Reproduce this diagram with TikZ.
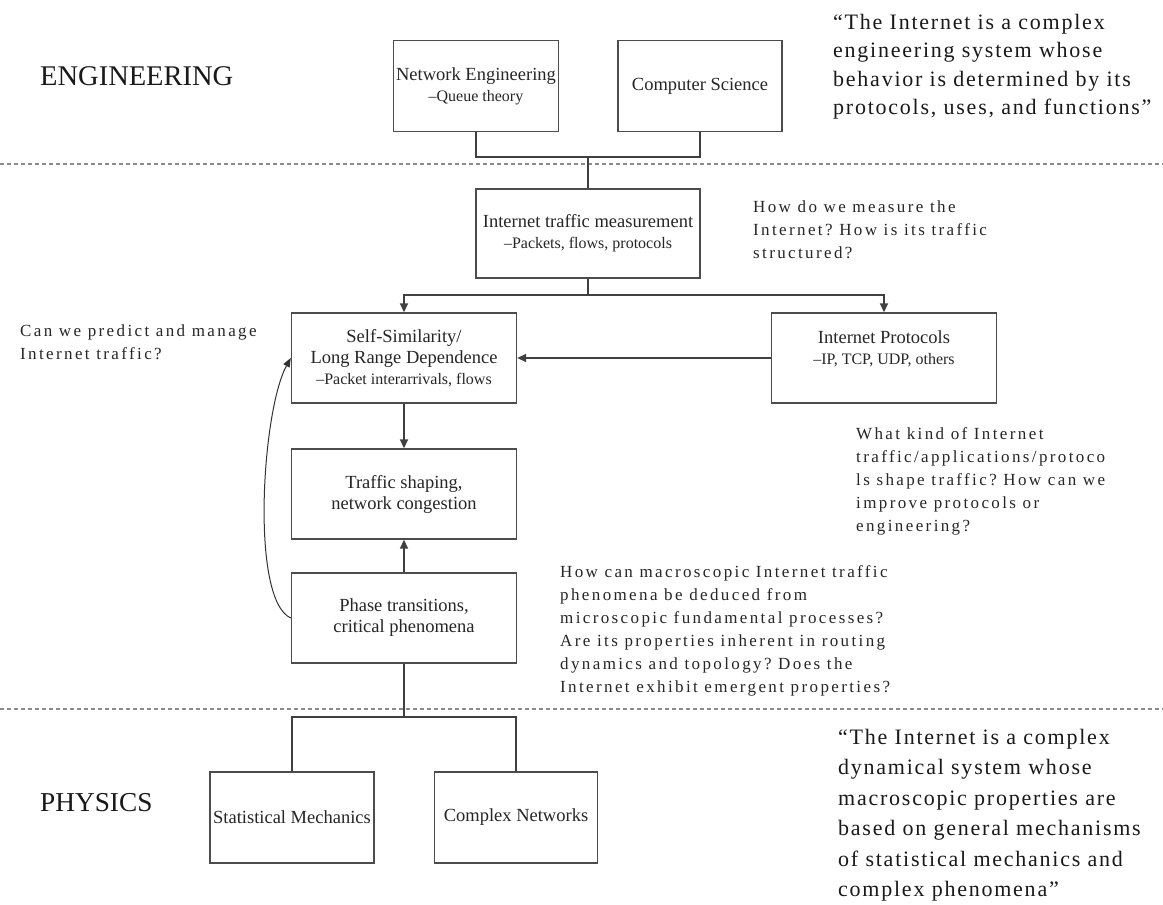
\documentclass[tikz,border=0pt]{standalone}
\usepackage{fontspec}
\setmainfont{Liberation Serif}
\newfontfamily\qfont[LetterSpace=14]{Liberation Serif}
\newfontfamily\quotefont[LetterSpace=8]{Liberation Serif}
\usetikzlibrary{arrows.meta}
\newcommand\sline[1]{{\fontsize{16}{21}\selectfont #1}}
\frenchspacing
\begin{document}
\begin{tikzpicture}[x=1pt,y=-1pt,
  box/.style={draw=black!70, line width=1.4pt, inner sep=0pt, align=center,
    text=black!85, font=\fontsize{18.5}{21}\selectfont,
    minimum width=225pt, minimum height=90pt},
  conn/.style={draw=black!75, line width=1.6pt},
  arr/.style={conn, -{Triangle[length=9pt,width=8pt]}},
  sep/.style={draw=black!45, line width=1.6pt, dash pattern=on 4pt off 3pt},
  question/.style={anchor=north west, align=left, inner sep=0pt, text=black!85,
    font=\qfont\fontsize{17}{23}\selectfont},
  quote/.style={anchor=north west, align=left, inner sep=0pt, text=black!90,
    font=\quotefont\fontsize{22}{28.5}\selectfont},
  field/.style={anchor=west, inner sep=0pt, text=black!90}]
\useasboundingbox (0,0) rectangle (1163,905);
\fill[white] (0,0) rectangle (1163,905);

% separators
\coordinate (s1l) at (0,164); \coordinate (s1r) at (1163,164);
\coordinate (s2l) at (0,709); \coordinate (s2r) at (1163,709);
\draw[sep] (s1l) -- (s1r);
\draw[sep] (s2l) -- (s2r);

% field labels
\node[field, font=\fontsize{28.5}{34}\selectfont] (eng) at (40,76) {ENGINEERING};
\node[field, font=\fontsize{27.3}{34}\selectfont] (phy) at (40,803) {PHYSICS};

% boxes
\node[box, minimum width=165pt, minimum height=91pt] (ne) at (476,86) {Network Engineering\\\sline{–Queue theory}};
\node[box, minimum width=164pt, minimum height=91pt] (cs) at (700,86) {Computer Science};
\node[box, minimum width=224pt, minimum height=89pt] (itm) at (588,233.5) {Internet traffic measurement\\\sline{–Packets, flows, protocols}};
\node[box] (ss) at (404,358) {Self-Similarity/\\Long Range Dependence\\\sline{–Packet interarrivals, flows}};
\node[box] (ip) at (884,358) {Internet Protocols\\\sline{–IP, TCP, UDP, others}\\\mbox{}};
\node[box] (ts) at (404,494) {Traffic shaping,\\network congestion};
\node[box] (pt) at (404,618) {Phase transitions,\\critical phenomena};
\node[box, minimum width=164pt, minimum height=91pt] (sm) at (292,817.5) {Statistical Mechanics};
\node[box, minimum width=163pt, minimum height=91pt] (cn) at (516,817.5) {Complex Networks};

% connectors
\coordinate (topbar) at (588,157);
\coordinate (midbar) at (588,295);
\coordinate (botbar) at (404,717);
\draw[conn] (ne.south) |- (topbar) -| (cs.south);
\draw[conn] (topbar) -- (itm.north);
\draw[conn] (itm.south) -- (midbar);
\draw[arr] (midbar) -| (ss.north);
\draw[arr] (midbar) -| (ip.north);
\draw[arr] (ip.west) -- (ss.east);
\draw[arr] (ss.south) -- (ts.north);
\draw[arr] (pt.north) -- (ts.south);
\draw[draw=black!80, line width=1pt, -{Triangle[length=9pt,width=7pt]}] (pt.west) .. controls (250,600) and (262,410) .. (ss.west);
\draw[conn] (pt.south) -- (botbar);
\draw[conn] (sm.north) |- (botbar) -| (cn.north);

% questions
\node[question] (q1) at (753,201) {How do we measure the\\Internet? How is its traffic\\structured?};
\node[question] (q2) at (20,325) {Can we predict and manage\\Internet traffic?};
\node[question] (q3) at (856,427) {What kind of Internet\\traffic/applications/protoco\\ls shape traffic? How can we\\improve protocols or\\engineering?};
\node[question] (q4) at (560,565) {How can macroscopic Internet traffic\\phenomena be deduced from\\microscopic fundamental processes?\\Are its properties inherent in routing\\dynamics and topology? Does the\\Internet exhibit emergent properties?};

% quotes
\node[quote] (quote1) at (833,14) {“The Internet is a complex\\engineering system whose\\behavior is determined by its\\protocols, uses, and functions”};
\node[quote, font=\quotefont\fontsize{22}{30.5}\selectfont] (quote2) at (838,729) {“The Internet is a complex\\dynamical system whose\\macroscopic properties are\\based on general mechanisms\\of statistical mechanics and\\complex phenomena”};
\end{tikzpicture}
\end{document}
